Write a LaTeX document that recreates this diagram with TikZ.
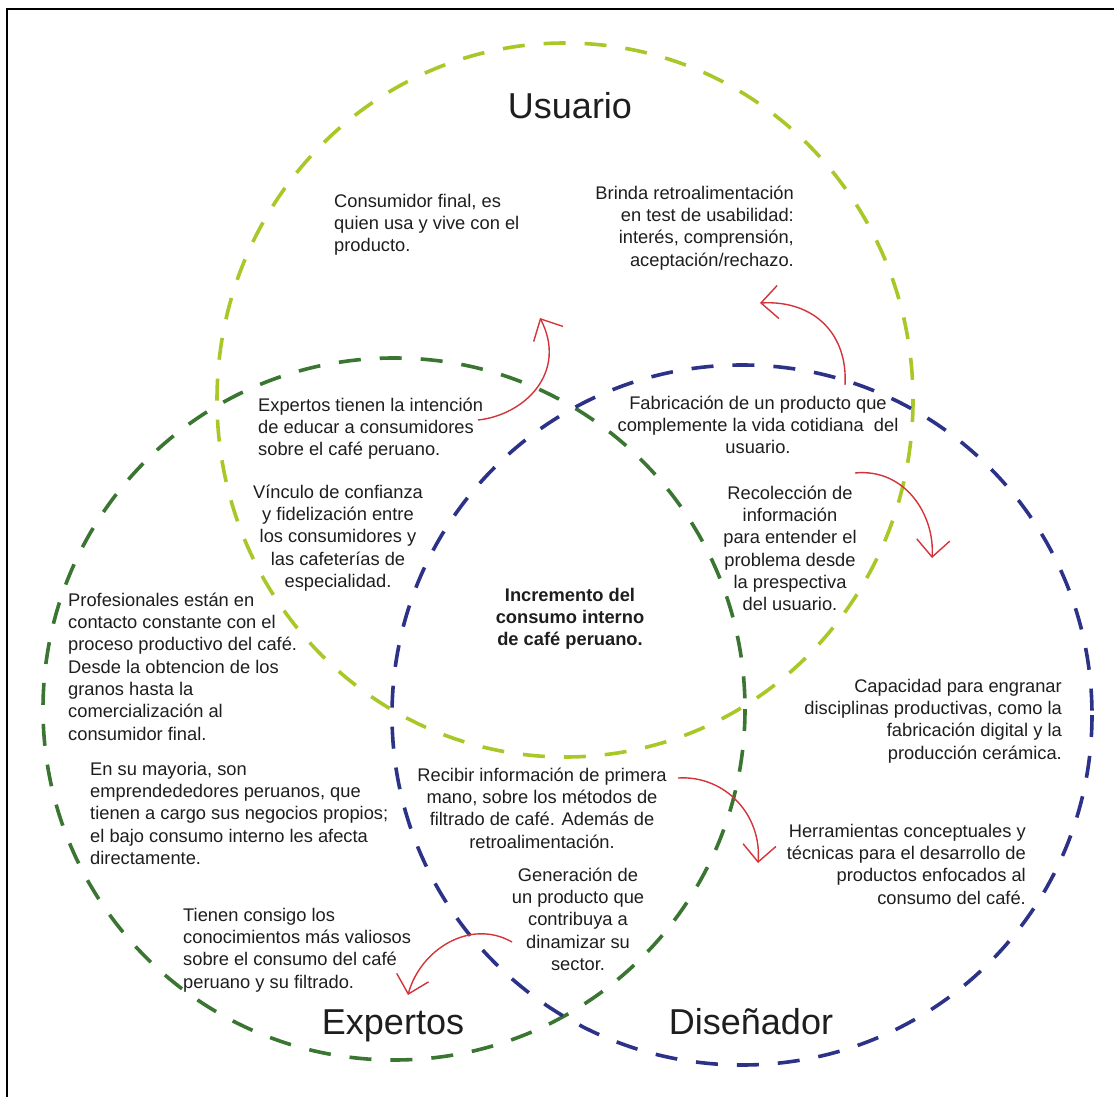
\documentclass[tikz,border=0pt]{standalone}
\usepackage{fontspec}
\setmainfont{Liberation Sans}
\usetikzlibrary{arrows.meta}

\definecolor{usuariogreen}{RGB}{168,200,40}
\definecolor{expertgreen}{RGB}{58,118,50}
\definecolor{designblue}{RGB}{44,50,135}
\definecolor{flowred}{RGB}{210,52,58}
\definecolor{inktext}{RGB}{30,30,30}

\tikzset{
  ring/.style={line width=3.6pt, dash pattern=on 22pt off 19pt},
  note/.style={inner sep=0pt, text=inktext,
    font=\fontsize{18.3}{22.3}\selectfont, execute at begin node=\strut},
  heading/.style={inner sep=0pt, text=inktext, font=\fontsize{36}{40}\selectfont},
  flow/.style={draw=flowred, line width=1.4pt,
    -{Straight Barb[length=17pt, width=33pt, line width=1.4pt]}},
}

\begin{document}
\begin{tikzpicture}[x=1pt, y=-1pt]
  % page area and outer frame
  \fill[white] (0,0) rectangle (1114,1097);
  \useasboundingbox (0,0) rectangle (1114,1097);
  \draw[line width=2.2pt] (7,1120) -- (7,9) -- (1130,9);

  % the three actor circles
  \draw[ring, usuariogreen] (565,400) ellipse [x radius=348, y radius=357];
  \draw[ring, expertgreen]  (394,709) circle [radius=351];
  \draw[ring, designblue]   (742,715) circle [radius=350];

  % circle titles
  \node[heading, anchor=base] (tUsuario)   at (570,119)  {Usuario};
  \node[heading, anchor=base] (tExpertos)  at (393,1034) {Expertos};
  \node[heading, anchor=base] (tDisenador) at (751,1034) {Diseñador};

  % descriptions
  \node[note, anchor=north west, align=left] (consumidor) at (334,193.7)
    {Consumidor final, es\\quien usa y vive con el\\producto.};
  \node[note, anchor=north east, align=right] (brinda) at (794,185.7)
    {Brinda retroalimentación\\en test de usabilidad:\\interés, comprensión,\\aceptación/rechazo.};
  \node[note, anchor=north west, align=left] (educar) at (258,397.7)
    {Expertos tienen la intención\\de educar a consumidores\\sobre el café peruano.};
  \node[note, anchor=north, align=center] (vinculo) at (338,484.7)
    {Vínculo de confianza\\y fidelización entre\\los consumidores y\\las cafeterías de\\especialidad.};
  \node[note, anchor=north, align=center, font=\fontsize{18.3}{22.3}\selectfont\bfseries] (centro) at (570,587.7)
    {Incremento del\\consumo interno\\de café peruano.};
  \node[note, anchor=north, align=center] (fabricacion) at (758,395.7)
    {Fabricación de un producto que\\complemente la vida cotidiana\ \ del\\usuario.};
  \node[note, anchor=north, align=center] (recoleccion) at (790,485.7)
    {Recolección de\\información\\para entender el\\problema desde\\la prespectiva\\del usuario.};
  \node[note, anchor=north west, align=left] (profesionales) at (68,592.7)
    {Profesionales están en\\contacto constante con el\\proceso productivo del café.\\Desde la obtencion de los\\granos hasta la\\comercialización al\\consumidor final.};
  \node[note, anchor=north west, align=left] (mayoria) at (90,761.7)
    {En su mayoria, son\\emprendededores peruanos, que\\tienen a cargo sus negocios propios;\\el bajo consumo interno les afecta\\directamente.};
  \node[note, anchor=north, align=center] (recibir) at (542,767.7)
    {Recibir información de primera\\mano, sobre los métodos de\\filtrado de café. Además de\\retroalimentación.};
  \node[note, anchor=north, align=center] (generacion) at (578,867.7)
    {Generación de\\un producto que\\contribuya a\\dinamizar su\\sector.};
  \node[note, anchor=north west, align=left] (consigo) at (183,907.7)
    {Tienen consigo los\\conocimientos más valiosos\\sobre el consumo del café\\peruano y su filtrado.};
  \node[note, anchor=north east, align=right] (capacidad) at (1062,678.7)
    {Capacidad para engranar\\disciplinas productivas, como la\\fabricación digital y la\\producción cerámica.};
  \node[note, anchor=north east, align=right] (herramientas) at (1026,823.7)
    {Herramientas conceptuales y\\técnicas para el desarrollo de\\productos enfocados al\\consumo del café.};

  % end points of the exchange arrows
  \coordinate (educaFrom)  at (478,420);
  \coordinate (educaTo)    at (540,318);
  \coordinate (fabFrom)    at (845,385);
  \coordinate (fabTo)      at (760,303);
  \coordinate (recoFrom)   at (855,473);
  \coordinate (recoTo)     at (932,558);
  \coordinate (recibFrom)  at (678,778);
  \coordinate (recibTo)    at (758,863);
  \coordinate (generaFrom) at (512,942);
  \coordinate (generaTo)   at (408,995);

  % exchange arrows
  \draw[flow] (educaFrom)  .. controls (525,415) and (568,372) .. (educaTo);
  \draw[flow] (fabFrom)    .. controls (848,335) and (815,300) .. (fabTo);
  \draw[flow] (recoFrom)   .. controls (905,468) and (935,515) .. (recoTo);
  \draw[flow] (recibFrom)  .. controls (725,775) and (762,815) .. (recibTo);
  \draw[flow] (generaFrom) .. controls (470,918) and (420,950) .. (generaTo);
\end{tikzpicture}
\end{document}
